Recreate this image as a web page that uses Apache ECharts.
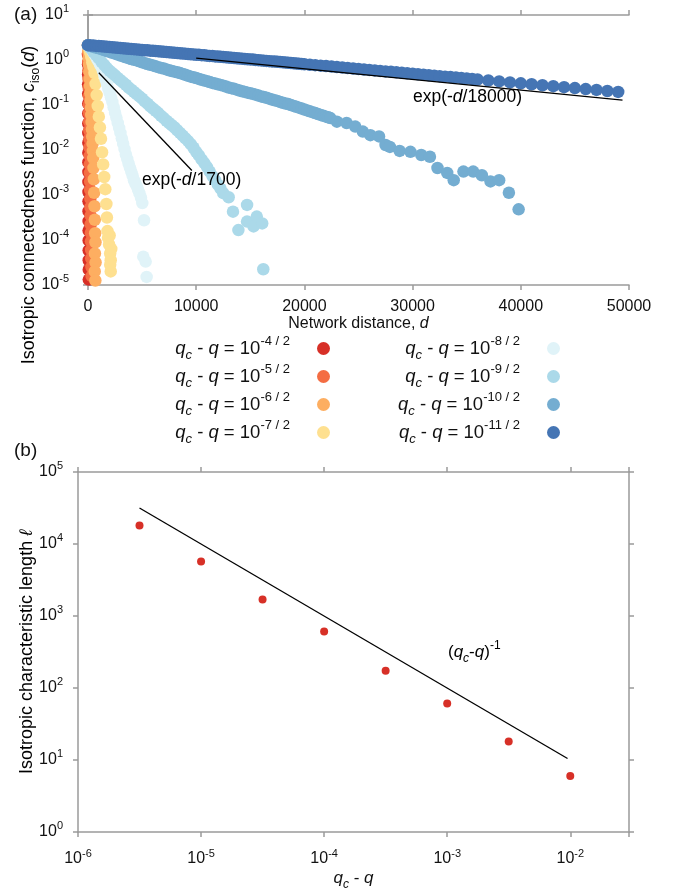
<!DOCTYPE html>
<html>
<head>
<meta charset="utf-8">
<script src="https://cdn.jsdelivr.net/npm/echarts@6/dist/echarts.min.js"></script>
<style>
html,body{margin:0;padding:0;background:#fff;}
#chart{width:684px;height:893px;}
</style>
</head>
<body>
<div id="chart"></div>
<script>
// ---------- Panel (a) data : [network distance d, c_iso(d)] ----------
const legendExps = ['-4 / 2', '-5 / 2', '-6 / 2', '-7 / 2', '-8 / 2', '-9 / 2', '-10 / 2', '-11 / 2'];
const seriesNames = legendExps.map(e => 'qc - q = 10^' + e);
const seriesColors = ['#d73027', '#f46d43', '#fdae61', '#fee090', '#e0f3f8', '#abd9e9', '#74add1', '#4575b4'];

const s4 = [[0,2.14],[3,1.29],[6,0.794],[9,0.479],[12,0.288],[15,0.178],[18,0.107],[21,0.0646],[24,0.0389],[27,0.024],[30,0.0145],[33,0.00871],[36,0.00537],[39,0.00324],[42,0.00195],[45,0.00117],[48,0.000724],[51,0.000437],[54,0.000263],[57,0.000162],[60,0.0000977],[63,0.0000589],[66,0.0000355],[69,0.0000219],[72,0.0000132]];

const s5 = [[0,2.14],[12,1.41],[24,0.912],[36,0.589],[48,0.38],[60,0.245],[72,0.158],[84,0.102],[96,0.0661],[108,0.0427],[120,0.0275],[132,0.0178],[144,0.0115],[156,0.00741],[168,0.00479],[180,0.00309],[192,0.002],[204,0.00129],[216,0.000832],[228,0.000537],[240,0.000347],[252,0.000224],[264,0.000145],[276,0.0000933],[288,0.0000603],[300,0.0000389],[315,0.0000251],[330,0.0000158]];

const s6 = [[0,2.14],[30,1.58],[60,1.12],[90,0.794],[120,0.55],[150,0.38],[180,0.263],[210,0.182],[240,0.126],[270,0.0871],[300,0.0603],[330,0.0417],[360,0.0288],[390,0.02],[420,0.0138],[450,0.00955],[480,0.00661],[510,0.00398],[540,0.00224],[570,0.00112],[600,0.000562],[630,0.000282],[660,0.000141],[690,0.0000891],[640,0.0000501],[700,0.0000316],[620,0.00002],[680,0.0000126]];

const s7 = [[0,2.14],[100,1.82],[200,1.48],[300,1.17],[400,0.891],[500,0.708],[600,0.513],[700,0.295],[800,0.166],[900,0.0955],[1000,0.055],[1100,0.0316],[1200,0.0178],[1300,0.00891],[1400,0.00479],[1500,0.00251],[1600,0.00135],[1700,0.000631],[1750,0.000316],[1800,0.000158],[1850,0.000112],[1950,0.0000794],[2000,0.000126],[2050,0.0000501],[2100,0.0000355],[2150,0.0000631],[2050,0.0000282],[2100,0.00002]];

const s8 = [[0,2.14],[125,2.0],[250,1.82],[375,1.66],[500,1.48],[625,1.32],[750,1.17],[875,1.02],[1000,0.912],[1125,0.794],[1250,0.708],[1375,0.575],[1500,0.468],[1625,0.372],[1750,0.295],[1875,0.234],[2000,0.186],[2125,0.148],[2250,0.117],[2375,0.0891],[2500,0.0676],[2625,0.0525],[2750,0.0398],[2875,0.0309],[3000,0.024],[3125,0.0182],[3250,0.0138],[3375,0.0105],[3500,0.00794],[3625,0.00631],[3750,0.00501],[3875,0.00407],[4000,0.00331],[4125,0.00269],[4250,0.00214],[4375,0.00182],[4500,0.00158],[4625,0.00132],[4750,0.0011],[4900,0.00087],[5020,0.00066],[5180,0.000275],[5110,0.0000427],[5330,0.0000331],[5420,0.0000151]];

const s9 = [[0,2.14],[250,1.82],[500,1.51],[750,1.29],[1000,1.1],[1250,0.912],[1500,0.776],[1750,0.661],[2000,0.575],[2250,0.513],[2500,0.457],[2750,0.398],[3000,0.355],[3250,0.316],[3500,0.282],[3750,0.245],[4000,0.219],[4250,0.195],[4500,0.174],[4750,0.155],[5000,0.138],[5250,0.12],[5500,0.107],[5750,0.0933],[6000,0.0832],[6250,0.0741],[6500,0.0661],[6750,0.0575],[7000,0.0513],[7250,0.0447],[7500,0.0398],[7750,0.0355],[8000,0.0316],[8250,0.0275],[8500,0.024],[8750,0.0209],[9000,0.0182],[9250,0.0158],[9500,0.0135],[9750,0.0112],[10000,0.00912],[10250,0.00759],[10500,0.00617],[10750,0.00513],[11000,0.00417],[11250,0.00331],[11500,0.00263],[11750,0.00214],[12000,0.0017],[12250,0.00138],[12500,0.0011],[13000,0.00089],[13400,0.000427],[13900,0.000166],[14700,0.000603],[14700,0.000257],[15300,0.0002],[15600,0.000331],[16100,0.000234],[16200,0.0000224]];

const s10 = [[0,2.14],[250,2.04],[500,1.95],[750,1.88],[1000,1.82],[1250,1.74],[1500,1.66],[1750,1.58],[2000,1.51],[2250,1.45],[2500,1.38],[2750,1.32],[3000,1.26],[3250,1.2],[3500,1.15],[3750,1.1],[4000,1.05],[4250,1.01],[4500,0.977],[4750,0.933],[5000,0.891],[5250,0.851],[5500,0.813],[5750,0.785],[6000,0.759],[6250,0.724],[6500,0.692],[6750,0.668],[7000,0.646],[7250,0.617],[7500,0.589],[7750,0.569],[8000,0.55],[8250,0.531],[8500,0.513],[8750,0.49],[9000,0.468],[9250,0.447],[9500,0.427],[9750,0.412],[10000,0.398],[10250,0.38],[10500,0.363],[10750,0.351],[11000,0.339],[11250,0.324],[11500,0.309],[11750,0.299],[12000,0.288],[12250,0.279],[12500,0.269],[12750,0.257],[13000,0.245],[13250,0.237],[13500,0.229],[13750,0.219],[14000,0.209],[14250,0.202],[14500,0.195],[14750,0.188],[15000,0.182],[15250,0.176],[15500,0.17],[15750,0.162],[16000,0.155],[16250,0.15],[16500,0.145],[16750,0.138],[17000,0.132],[17250,0.127],[17500,0.123],[17750,0.117],[18000,0.112],[18250,0.108],[18500,0.105],[18750,0.1],[19000,0.0955],[19250,0.0912],[19500,0.0871],[19750,0.0832],[20000,0.0794],[20250,0.0759],[20500,0.0724],[20750,0.0692],[21000,0.0661],[21250,0.0631],[21500,0.0603],[21750,0.0575],[22000,0.055],[22200,0.0531],[22400,0.0513],[23000,0.0427],[23900,0.0398],[24700,0.0331],[25400,0.0257],[26100,0.0214],[26900,0.02],[27500,0.0129],[27900,0.0117],[28800,0.00955],[29800,0.00912],[30800,0.00776],[31600,0.00708],[32300,0.00398],[33200,0.00309],[33800,0.00214],[34700,0.00331],[35600,0.00331],[36400,0.00275],[37200,0.002],[38000,0.00214],[38900,0.00112],[39800,0.00048]];

const s11 = [[0,2.14],[250,2.11],[500,2.09],[750,2.06],[1000,2.04],[1250,2.01],[1500,1.99],[1750,1.96],[2000,1.94],[2250,1.92],[2500,1.89],[2750,1.87],[3000,1.85],[3250,1.82],[3500,1.8],[3750,1.78],[4000,1.76],[4250,1.74],[4500,1.72],[4750,1.7],[5000,1.67],[5250,1.65],[5500,1.64],[5750,1.61],[6000,1.6],[6250,1.58],[6500,1.56],[6750,1.54],[7000,1.52],[7250,1.5],[7500,1.48],[7750,1.46],[8000,1.45],[8250,1.43],[8500,1.41],[8750,1.39],[9000,1.38],[9250,1.36],[9500,1.34],[9750,1.33],[10000,1.31],[10250,1.3],[10500,1.28],[10750,1.27],[11000,1.25],[11250,1.23],[11500,1.22],[11750,1.2],[12000,1.19],[12250,1.18],[12500,1.16],[12750,1.15],[13000,1.13],[13250,1.12],[13500,1.11],[13750,1.09],[14000,1.08],[14250,1.07],[14500,1.05],[14750,1.04],[15000,1.03],[15250,1.02],[15500,1.0],[15750,0.991],[16000,0.979],[16250,0.967],[16500,0.955],[16750,0.944],[17000,0.932],[17250,0.921],[17500,0.91],[17750,0.899],[18000,0.888],[18250,0.877],[18500,0.867],[18750,0.856],[19000,0.846],[19250,0.836],[19500,0.825],[19750,0.815],[20000,0.805],[20500,0.786],[21000,0.767],[21500,0.748],[22000,0.731],[22500,0.713],[23000,0.696],[23500,0.679],[24000,0.662],[24500,0.647],[25000,0.631],[25500,0.616],[26000,0.601],[26500,0.586],[27000,0.572],[27500,0.558],[28000,0.545],[28500,0.532],[29000,0.519],[29500,0.507],[30000,0.494],[30500,0.482],[31000,0.471],[31500,0.459],[32000,0.448],[32500,0.438],[33000,0.427],[33500,0.417],[34000,0.407],[34500,0.397],[35000,0.387],[35500,0.378],[36000,0.369],[37000,0.351],[38000,0.334],[39000,0.318],[40000,0.303],[41000,0.289],[42000,0.275],[43000,0.262],[44000,0.249],[45000,0.238],[46000,0.226],[47000,0.216],[48000,0.205],[49000,0.195]];

const fit18000 = [[10000,1.1],[49400,0.128]];
const fit1700 = [[1000,0.52],[9600,0.0035]];

// ---------- Panel (b) data ----------
const qcMinusQ = [3.16e-6, 1e-5, 3.16e-5, 1e-4, 3.16e-4, 1e-3, 3.16e-3, 1e-2];
const charLength = [18000, 5700, 1700, 610, 173, 61, 18, 6];
const fitPowerLaw = [[3.16e-6, 31600], [0.0095, 10.5]];

// tick settings
const xTicksA = [0, 10000, 20000, 30000, 40000, 50000];

const allSeriesA = [s4, s5, s6, s7, s8, s9, s10, s11];

// ---------- styling helpers ----------
const FONT = '"Liberation Sans", Arial, Helvetica, sans-serif';
const TXT = '#111';
const AXC = '#9a9a9a';

function makeRich(fs, supRatio) {
  const ss = Math.round(fs * (supRatio || 0.68));
  return {
    n:   {fontSize: fs, fontFamily: FONT, color: TXT, padding: [0,0,4,0], verticalAlign: 'bottom'},
    i:   {fontSize: fs, fontFamily: FONT, color: TXT, fontStyle: 'italic', padding: [0,0,4,0], verticalAlign: 'bottom'},
    sup: {fontSize: ss, fontFamily: FONT, color: TXT, padding: [0,0,Math.round(fs*0.75),0], verticalAlign: 'bottom'},
    sub: {fontSize: ss, fontFamily: FONT, color: TXT, padding: [0,0,0,0], verticalAlign: 'bottom'},
    isub:{fontSize: ss, fontFamily: FONT, color: TXT, fontStyle: 'italic', padding: [0,0,0,0], verticalAlign: 'bottom'},
    gap: {fontSize: fs, fontFamily: FONT, width: 22, padding: [0,0,4,0], verticalAlign: 'bottom'}
  };
}

function powLabel(v) {
  const e = Math.log10(v);
  const r = Math.round(e);
  if (Math.abs(e - r) > 0.01) return '';
  return '{n|10}{sup|' + r + '}';
}

const axisLineStyle = {show: true, lineStyle: {color: AXC, width: 1.5}};
const tickStyle = {show: true, inside: false, length: 5, lineStyle: {color: AXC, width: 1.5}};

const chart = echarts.init(document.getElementById('chart'), null, {renderer: 'canvas'});

const series = [];
allSeriesA.forEach((arr, k) => {
  series.push({
    name: seriesNames[k], type: 'scatter', xAxisIndex: 0, yAxisIndex: 0,
    data: arr, symbol: 'circle', symbolSize: 12.5, clip: false, silent: true, large: false,
    itemStyle: {color: seriesColors[k], opacity: 1, borderWidth: 0}, z: 2 + k
  });
});
series.push({type: 'line', xAxisIndex: 0, yAxisIndex: 0, data: fit18000, symbol: 'none', silent: true,
  lineStyle: {color: '#000', width: 1.3}, z: 20});
series.push({type: 'line', xAxisIndex: 0, yAxisIndex: 0, data: fit1700, symbol: 'none', silent: true,
  lineStyle: {color: '#000', width: 1.3}, z: 20});
series.push({type: 'scatter', xAxisIndex: 2, yAxisIndex: 2, data: qcMinusQ.map((q, i) => [q, charLength[i]]),
  symbol: 'circle', symbolSize: 8, silent: true, itemStyle: {color: '#d73027', opacity: 1, borderWidth: 0}, z: 5});
series.push({type: 'line', xAxisIndex: 2, yAxisIndex: 2, data: fitPowerLaw, symbol: 'none', silent: true,
  lineStyle: {color: '#000', width: 1.3}, z: 6});

function legendFormatter(name) {
  const k = seriesNames.indexOf(name);
  return '{i|q}{isub|c}{n| - }{i|q}{n| = 10}{sup|' + legendExps[k] + '}{gap| }';
}

const option = {
  animation: false,
  backgroundColor: '#fff',
  textStyle: {fontFamily: FONT},
  grid: [
    {left: 88, top: 15, width: 541, height: 270, outerBoundsMode: 'none', containLabel: false},
    {left: 78, top: 472, width: 551, height: 360, outerBoundsMode: 'none', containLabel: false}
  ],
  xAxis: [
    {gridIndex: 0, type: 'value', min: xTicksA[0], max: xTicksA[xTicksA.length-1], interval: 10000, position: 'bottom',
     axisLine: axisLineStyle, axisTick: tickStyle, splitLine: {show: false},
     axisLabel: {show: true, margin: 14, color: TXT, fontSize: 16, fontFamily: FONT, formatter: v => String(v)},
     name: '{n|Network distance, }{i|d}', nameLocation: 'middle', nameGap: 30,
     nameTextStyle: {rich: makeRich(16)}},
    {gridIndex: 0, type: 'value', min: xTicksA[0], max: xTicksA[xTicksA.length-1], interval: 10000, position: 'top',
     axisLine: axisLineStyle, axisTick: tickStyle, splitLine: {show: false}, axisLabel: {show: false}},
    {gridIndex: 1, type: 'log', logBase: 10, min: 1e-6, max: 0.03, position: 'bottom',
     axisLine: axisLineStyle, axisTick: tickStyle, splitLine: {show: false}, minorTick: {show: false},
     axisLabel: {show: true, margin: 16, formatter: powLabel, rich: makeRich(16)},
     name: '{i|q}{isub|c}{n| - }{i|q}', nameLocation: 'middle', nameGap: 38,
     nameTextStyle: {rich: makeRich(17)}},
    {gridIndex: 1, type: 'log', logBase: 10, min: 1e-6, max: 0.03, position: 'top',
     axisLine: axisLineStyle, axisTick: tickStyle, splitLine: {show: false}, axisLabel: {show: false}}
  ],
  yAxis: [
    {gridIndex: 0, type: 'log', logBase: 10, min: 1e-5, max: 10, position: 'left',
     axisLine: axisLineStyle, axisTick: tickStyle, splitLine: {show: false},
     axisLabel: {show: true, margin: 19, formatter: powLabel, rich: makeRich(16)}},
    {gridIndex: 0, type: 'log', logBase: 10, min: 1e-5, max: 10, position: 'right',
     axisLine: axisLineStyle, axisTick: tickStyle, splitLine: {show: false}, axisLabel: {show: false}},
    {gridIndex: 1, type: 'log', logBase: 10, min: 1, max: 1e5, position: 'left',
     axisLine: axisLineStyle, axisTick: tickStyle, splitLine: {show: false},
     axisLabel: {show: true, margin: 15, formatter: powLabel, rich: makeRich(16)}},
    {gridIndex: 1, type: 'log', logBase: 10, min: 1, max: 1e5, position: 'right',
     axisLine: axisLineStyle, axisTick: tickStyle, splitLine: {show: false}, axisLabel: {show: false}}
  ],
  legend: [
    {data: seriesNames.slice(0, 4), orient: 'vertical', align: 'right', right: 354, top: 335,
     itemWidth: 13, itemHeight: 13, itemGap: 1, padding: 0, icon: 'circle', selectedMode: false,
     formatter: legendFormatter, textStyle: {rich: makeRich(18.5, 0.7)}},
    {data: seriesNames.slice(4), orient: 'vertical', align: 'right', right: 124, top: 335,
     itemWidth: 13, itemHeight: 13, itemGap: 1, padding: 0, icon: 'circle', selectedMode: false,
     formatter: legendFormatter, textStyle: {rich: makeRich(18.5, 0.7)}}
  ],
  graphic: [
    {type: 'text', left: 14, top: 5, z: 100, style: {text: '(a)', font: '19px ' + FONT, fill: TXT}},
    {type: 'text', left: 14, top: 441, z: 100, style: {text: '(b)', font: '19px ' + FONT, fill: TXT}},
    {type: 'text', x: 31, y: 205, rotation: Math.PI / 2, z: 100,
     style: {text: '{n|Isotropic connectedness function, }{i|c}{sub|iso}{n|(}{i|d}{n|)}', rich: makeRich(18),
             align: 'center', verticalAlign: 'middle'}},
    {type: 'text', x: 29, y: 652, rotation: Math.PI / 2, z: 100,
     style: {text: '{n|Isotropic characteristic length }{i|ℓ}', rich: makeRich(18),
             align: 'center', verticalAlign: 'middle'}},
    {type: 'text', left: 142, top: 171, z: 100, style: {text: '{n|exp(-}{i|d}{n|/1700)}', rich: makeRich(17.5)}},
    {type: 'text', left: 413, top: 88, z: 100, style: {text: '{n|exp(-}{i|d}{n|/18000)}', rich: makeRich(17.5)}},
    {type: 'text', left: 448, top: 640, z: 100, style: {text: '{n|(}{i|q}{isub|c}{n|-}{i|q}{n|)}{sup|-1}', rich: makeRich(17)}}
  ],
  series: series
};
chart.setOption(option);
</script>
</body>
</html>
